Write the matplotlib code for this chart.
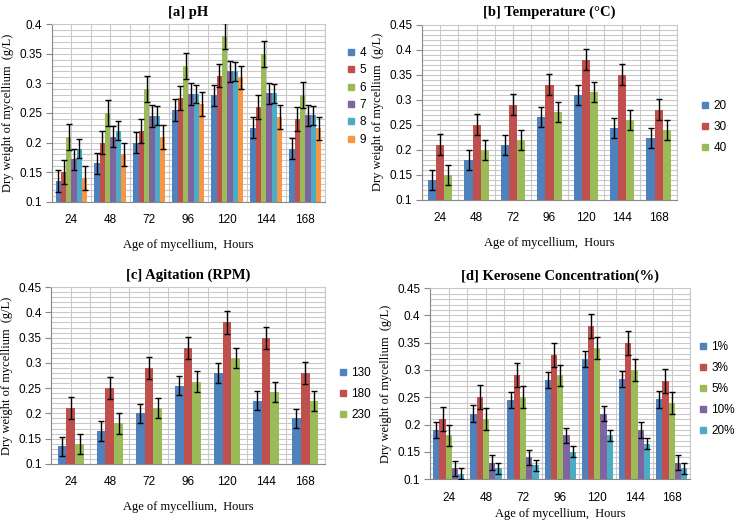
import numpy as np
import matplotlib
matplotlib.use("Agg")
import matplotlib.pyplot as plt
from matplotlib.lines import Line2D
from matplotlib.ticker import MultipleLocator, FixedLocator

hours = ["24", "48", "72", "96", "120", "144", "168"]

# [a] pH
ph_labels = ["4", "5", "6", "7", "8", "9"]
ph_4 = [0.135, 0.165, 0.200, 0.255, 0.280, 0.225, 0.190]
ph_5 = [0.150, 0.200, 0.220, 0.275, 0.313, 0.260, 0.240]
ph_6 = [0.210, 0.250, 0.290, 0.330, 0.380, 0.350, 0.280]
ph_7 = [0.172, 0.210, 0.245, 0.282, 0.320, 0.283, 0.246]
ph_8 = [0.190, 0.220, 0.245, 0.282, 0.320, 0.283, 0.246]
ph_9 = [0.140, 0.180, 0.210, 0.265, 0.310, 0.243, 0.224]
ph_err = [0.018, 0.020, 0.022, 0.018, 0.016, 0.020]

# [b] Temperature
temp_labels = ["20", "30", "40"]
temp_20 = [0.140, 0.180, 0.210, 0.265, 0.310, 0.243, 0.223]
temp_30 = [0.210, 0.250, 0.290, 0.330, 0.380, 0.350, 0.280]
temp_40 = [0.150, 0.200, 0.220, 0.275, 0.315, 0.260, 0.240]
temp_err = [0.020, 0.021, 0.020]

# [c] Agitation
rpm_labels = ["130", "180", "230"]
rpm_130 = [0.135, 0.165, 0.200, 0.255, 0.280, 0.225, 0.190]
rpm_180 = [0.210, 0.250, 0.290, 0.330, 0.380, 0.350, 0.280]
rpm_230 = [0.140, 0.180, 0.210, 0.263, 0.310, 0.243, 0.224]
rpm_err = [0.019, 0.022, 0.020]

# [d] Kerosene concentration
ker_labels = ["1%", "3%", "5%", "10%", "20%"]
ker_1 = [0.190, 0.220, 0.245, 0.282, 0.320, 0.283, 0.246]
ker_3 = [0.210, 0.250, 0.290, 0.328, 0.380, 0.350, 0.280]
ker_5 = [0.180, 0.210, 0.250, 0.290, 0.340, 0.300, 0.240]
ker_10 = [0.120, 0.130, 0.140, 0.180, 0.220, 0.190, 0.130]
ker_20 = [0.110, 0.120, 0.125, 0.150, 0.180, 0.165, 0.120]
ker_err = [0.015, 0.022, 0.020, 0.014, 0.010]

COLORS = ["#4F81BD", "#C0504D", "#9BBB59", "#8064A2", "#4BACC6", "#F79646"]
SERIF = "Liberation Serif"
SANS = "Liberation Sans"
GRID = "#c9c9c9"
AXIS = "#888888"


def panel(ax, title, series, labels, errs, ymax, group_frac, leg_xy, leg_space,
          xpad=9):
    n = len(series)
    x = np.arange(len(hours))
    w = group_frac / n
    for i, (vals, err) in enumerate(zip(series, errs)):
        pos = x - group_frac / 2 + w * (i + 0.5)
        h = np.array(vals) - 0.1
        ax.bar(pos, h, w, bottom=0.1, color=COLORS[i], zorder=2)
        ax.errorbar(pos, vals, yerr=err, fmt="none", ecolor="black",
                    elinewidth=1.0, capsize=2, capthick=1.0, zorder=3)

    ax.set_xlim(-0.5, len(hours) - 0.5)
    ax.set_ylim(0.1, ymax)
    ax.yaxis.set_major_locator(MultipleLocator(0.05))
    ax.yaxis.set_minor_locator(MultipleLocator(0.01))
    ax.set_yticklabels([f"{v:g}" for v in ax.get_yticks()])
    ax.set_xticks(x)
    ax.set_xticklabels(hours)
    # gridlines at group borders and centres, like the excel original
    ax.xaxis.set_minor_locator(FixedLocator(np.arange(-0.5, len(hours), 0.5)))
    ax.grid(True, which="both", color=GRID, lw=0.8, zorder=0)
    ax.set_axisbelow(True)
    ax.tick_params(axis="x", which="major", length=0, pad=9, labelsize=8.5)
    ax.tick_params(axis="x", which="minor", length=0)
    ax.tick_params(axis="y", which="major", length=4, color=AXIS,
                   labelsize=8.5, pad=3)
    ax.tick_params(axis="y", which="minor", length=0)
    for lab in ax.get_xticklabels() + ax.get_yticklabels():
        lab.set_family(SANS)
    ax.spines["top"].set_color(GRID)
    ax.spines["right"].set_color(GRID)
    ax.spines["left"].set_color(AXIS)
    ax.spines["bottom"].set_color(AXIS)
    ax.set_title(title, family=SERIF, fontweight="bold", fontsize=10.5, pad=6)
    ax.set_ylabel("Dry weight of mycellium  (g/L)", family=SERIF, fontsize=9)
    ax.set_xlabel("Age of mycellium,  Hours", family=SERIF, fontsize=9,
                  labelpad=xpad)

    handles = [Line2D([], [], marker="s", ls="none", color=COLORS[i], markersize=5)
               for i in range(n)]
    ax.legend(handles, labels, loc="center left", bbox_to_anchor=leg_xy,
              frameon=False, handletextpad=0.1, labelspacing=leg_space,
              prop={"family": SANS, "size": 8.5}, borderpad=0, handlelength=1.2)


fig = plt.figure(figsize=(7.43, 5.23), dpi=100)

ax_a = fig.add_axes([0.070, 0.614, 0.367, 0.340])
ax_b = fig.add_axes([0.568, 0.618, 0.343, 0.335])
ax_c = fig.add_axes([0.069, 0.113, 0.368, 0.338])
ax_d = fig.add_axes([0.579, 0.084, 0.350, 0.365])

panel(ax_a, "[a] pH", [ph_4, ph_5, ph_6, ph_7, ph_8, ph_9], ph_labels, ph_err,
      0.4, 0.82, (1.05, 0.593), 0.45)
panel(ax_b, "[b] Temperature (\u00b0C)", [temp_20, temp_30, temp_40], temp_labels,
      temp_err, 0.45, 0.67, (1.06, 0.414), 0.75)
panel(ax_c, "[c] Agitation (RPM)", [rpm_130, rpm_180, rpm_230], rpm_labels,
      rpm_err, 0.45, 0.67, (1.02, 0.395), 0.75)
panel(ax_d, "[d] Kerosene Concentration(%)", [ker_1, ker_3, ker_5, ker_10, ker_20],
      ker_labels, ker_err, 0.45, 0.84, (1.0, 0.471), 0.75, xpad=3)

fig.savefig("out.png", dpi=100, facecolor="white")
